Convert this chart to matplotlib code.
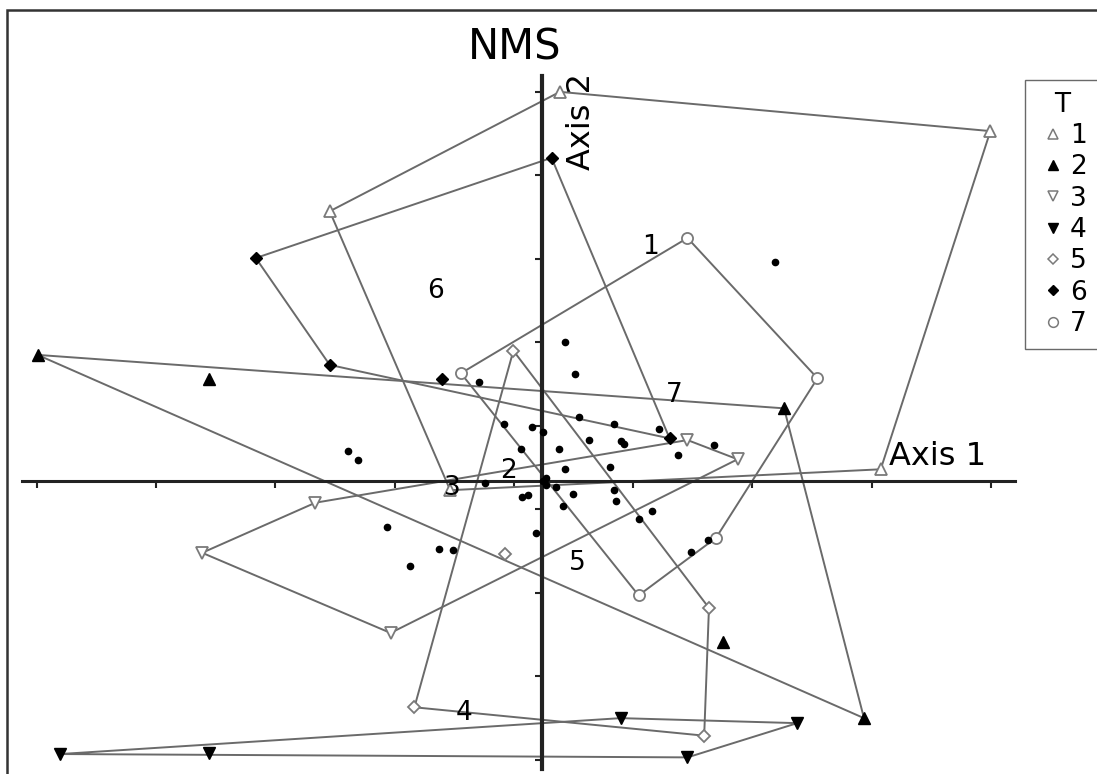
import matplotlib
matplotlib.use("Agg")
import matplotlib.pyplot as plt
from matplotlib.lines import Line2D
from matplotlib.patches import Rectangle
import numpy as np

# NMS scores (axis units, axes cross at 0, 0)
g1_x = [0.15, 3.76, 2.84, -0.77, -1.78]
g1_y = [4.66, 4.19, 0.14, -0.11, 3.23]
g2_x = [-4.23, -2.79, 2.03, 2.70, 1.52]
g2_y = [1.51, 1.22, 0.87, -2.84, -1.93]
g3_x = [-1.90, -2.85, -1.27, 1.64, 1.22]
g3_y = [-0.26, -0.86, -1.82, 0.26, 0.49]
g4_x = [-4.04, -2.79, 0.66, 2.14, 1.22]
g4_y = [-3.27, -3.26, -2.84, -2.90, -3.31]
g5_x = [-0.24, 1.40, 1.36, -1.07, -0.31]
g5_y = [1.56, -1.52, -3.05, -2.71, -0.87]
g6_x = [0.08, 1.07, -1.78, -2.40, -0.84]
g6_y = [3.87, 0.51, 1.39, 2.67, 1.22]
g7_x = [1.22, 2.31, 1.46, 0.81, -0.68]
g7_y = [2.91, 1.23, -0.68, -1.37, 1.29]

# unlabelled sample points (small dots)
dot_x = [1.95, 0.19, 0.28, -0.53, 0.31, 0.60, 0.98, 1.44, 1.14, -0.32, -0.08,
         0.01, 0.39, 0.66, 0.69, -0.18, 0.14, 0.19, 0.57, 0.03, 0.03, 0.12,
         0.26, 0.60, 0.62, -0.17, -0.12, 0.18, -0.48, 0.92, 0.81, -1.30, -0.05,
         -0.86, -0.75, -1.11, 1.25, 1.39, -1.63, -1.54, 0.01]
dot_y = [2.62, 1.66, 1.28, 1.19, 0.77, 0.68, 0.62, 0.43, 0.31, 0.68, 0.65,
         0.59, 0.49, 0.48, 0.44, 0.38, 0.38, 0.14, 0.17, 0.04, -0.05, -0.07,
         -0.16, -0.11, -0.24, -0.19, -0.17, -0.30, -0.02, -0.36, -0.46, -0.55, -0.62,
         -0.81, -0.83, -1.02, -0.85, -0.71, 0.36, 0.25, 0.00]

group_names = ["1", "2", "3", "4", "5", "6", "7"]
group_x = [g1_x, g2_x, g3_x, g4_x, g5_x, g6_x, g7_x]
group_y = [g1_y, g2_y, g3_y, g4_y, g5_y, g6_y, g7_y]

# group number labels inside the hulls
label_x = [0.91, -0.28, -0.75, -0.65, 0.30, -0.89, 1.11]
label_y = [2.80, 0.12, -0.08, -2.78, -0.98, 2.28, 1.03]

x_ticks = [-4.235 + k for k in range(9)]
y_ticks = [4.659 - k for k in range(9)]

markers = ["^", "^", "v", "v", "D", "D", "o"]
filled = [False, True, False, True, False, True, False]
msizes = [8, 8, 8, 8, 6, 6, 8]


def convex_hull(xs, ys):
    pts = sorted(zip(xs, ys))

    def cross(o, a, b):
        return (a[0] - o[0]) * (b[1] - o[1]) - (a[1] - o[1]) * (b[0] - o[0])

    lower, upper = [], []
    for p in pts:
        while len(lower) >= 2 and cross(lower[-2], lower[-1], p) <= 0:
            lower.pop()
        lower.append(p)
    for p in reversed(pts):
        while len(upper) >= 2 and cross(upper[-2], upper[-1], p) <= 0:
            upper.pop()
        upper.append(p)
    hull = lower[:-1] + upper[:-1]
    hull.append(hull[0])
    return np.array(hull)


fig = plt.figure(figsize=(10.97, 7.74), dpi=100)
ax = fig.add_axes([0, 0, 1, 1])
ax.set_xlim(-4.545, 4.654)
ax.set_ylim(-3.509, 5.760)

line_col = "#6a6a6a"
open_col = "#7a7a7a"

# hulls
for xs, ys in zip(group_x, group_y):
    h = convex_hull(xs, ys)
    ax.plot(h[:, 0], h[:, 1], color=line_col, lw=1.4, zorder=2)

# group points
for i, (xs, ys) in enumerate(zip(group_x, group_y)):
    if filled[i]:
        ax.plot(xs, ys, linestyle="none", marker=markers[i], ms=msizes[i],
                markerfacecolor="black", markeredgecolor="black", zorder=3)
    else:
        ax.plot(xs, ys, linestyle="none", marker=markers[i], ms=msizes[i],
                markerfacecolor="white", markeredgecolor=open_col, mew=1.3, zorder=3)

ax.plot(dot_x, dot_y, linestyle="none", marker="o", ms=4.5, color="black", zorder=4)

for name, lx, ly in zip(group_names, label_x, label_y):
    ax.text(lx, ly, name, fontsize=19, ha="center", va="center", zorder=5)

# crossing axes
for side in ["top", "right"]:
    ax.spines[side].set_visible(False)
ax.spines["left"].set_position(("data", 0))
ax.spines["bottom"].set_position(("data", 0))
ax.spines["left"].set_bounds(-3.45, 4.85)
ax.spines["bottom"].set_bounds(-4.36, 3.97)
ax.spines["left"].set_linewidth(3.0)
ax.spines["bottom"].set_linewidth(2.2)
ax.spines["left"].set_color("#222222")
ax.spines["bottom"].set_color("#222222")
ax.set_xticks(x_ticks)
ax.set_yticks(y_ticks)
ax.tick_params(axis="both", direction="out", length=5, width=1.5, color="#222222",
               labelbottom=False, labelleft=False)
ax.patch.set_visible(False)

ax.text(2.91, 0.19, "Axis 1", fontsize=23, ha="left", va="baseline")
ax.text(0.33, 4.30, "Axis 2", fontsize=23, rotation=90, ha="center", va="center")
fig.text(515 / 1097, 1 - 48 / 774, "NMS", fontsize=30, ha="center", va="center")

# legend
handles = []
for i in range(7):
    if filled[i]:
        handles.append(Line2D([], [], linestyle="none", marker=markers[i], ms=msizes[i] - 1,
                              markerfacecolor="black", markeredgecolor="black"))
    else:
        handles.append(Line2D([], [], linestyle="none", marker=markers[i], ms=msizes[i] - 1,
                              markerfacecolor="white", markeredgecolor=open_col, mew=1.1))
leg = fig.legend(handles, group_names, title="T", loc="upper left",
                 bbox_to_anchor=(1025 / 1097, 1 - 80 / 774), fontsize=19, title_fontsize=19,
                 labelspacing=0.2, handletextpad=0.05, handlelength=1.2, borderpad=0.45,
                 borderaxespad=0, fancybox=False, frameon=True)
leg.get_frame().set_edgecolor("#444444")
leg.get_frame().set_linewidth(1.0)

# outer frame of the figure
fig.add_artist(Rectangle((7 / 1097, -0.1), 1.2, 1.1 - 10 / 774, transform=fig.transFigure,
                         fill=False, lw=1.8, edgecolor="#333333"))

fig.savefig("out.png", dpi=100)
